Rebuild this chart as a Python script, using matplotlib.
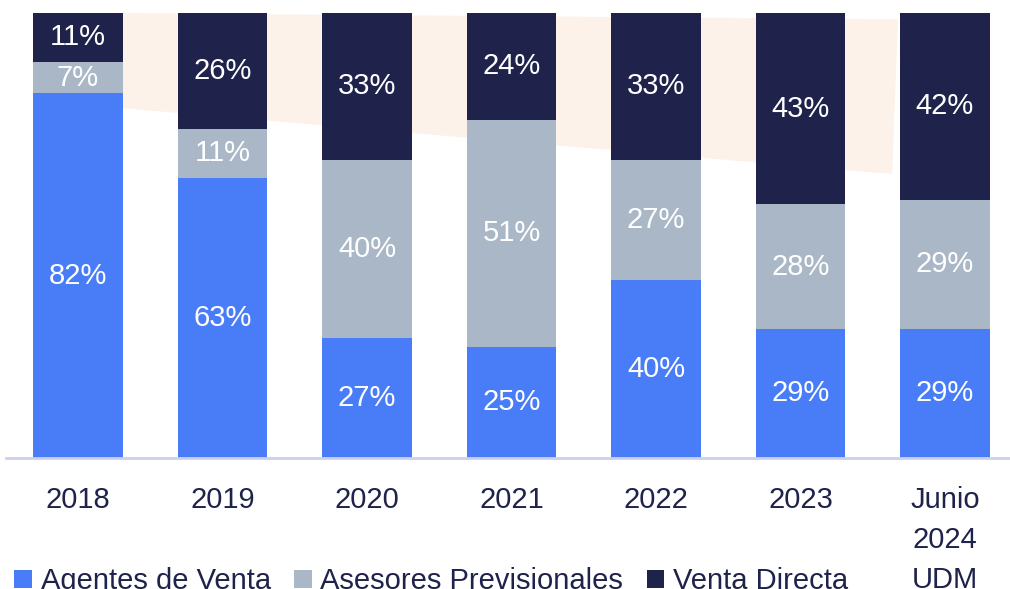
import matplotlib.pyplot as plt
from matplotlib.patches import Polygon
import numpy as np

plt.rcParams['font.family'] = ['Liberation Sans', 'DejaVu Sans']

categories = ['2018', '2019', '2020', '2021', '2022', '2023', 'Junio\n2024\nUDM']
agentes = [82, 63, 27, 25, 40, 29, 29]
asesores = [7, 11, 40, 51, 27, 28, 29]
directa = [11, 26, 33, 24, 33, 43, 42]
series_names = ['Agentes de Venta', 'Asesores Previsionales', 'Venta Directa']

c_blue = '#497DF8'
c_gray = '#AAB7C7'
c_navy = '#1F234B'
c_bg = '#FCF2EA'
c_axis = '#CDD0EA'

fig = plt.figure(figsize=(10.10, 5.89), dpi=100)
ax = fig.add_axes([6 / 1010, 131 / 589, 1004 / 1010, 445 / 589])

x = np.arange(len(categories))
w = 0.62

# light band behind the bars
band = Polygon([(0.31, 100), (5.675, 98.6), (5.635, 63.8), (0.31, 78.6)],
               closed=True, facecolor=c_bg, edgecolor='none', zorder=0)
ax.add_patch(band)

b1 = ax.bar(x, agentes, w, color=c_blue, label=series_names[0], zorder=2)
bottom2 = np.array(agentes)
b2 = ax.bar(x, asesores, w, bottom=bottom2, color=c_gray, label=series_names[1], zorder=2)
bottom3 = bottom2 + np.array(asesores)
b3 = ax.bar(x, directa, w, bottom=bottom3, color=c_navy, label=series_names[2], zorder=2)

for vals, bots in [(agentes, np.zeros(len(x))), (asesores, bottom2), (directa, bottom3)]:
    for xi, v, b in zip(x, vals, bots):
        ax.text(xi, b + v / 2, '{}%'.format(v), ha='center', va='center',
                color='white', fontsize=21, zorder=3)

ax.set_xlim(-0.498, 6.45)
ax.set_ylim(0, 100)
ax.set_yticks([])
ax.set_xticks(x)
ax.set_xticklabels(categories, fontsize=21, color=c_navy, linespacing=1.55, va='top')
ax.tick_params(axis='x', length=0, pad=20)
for s in ['top', 'right', 'left']:
    ax.spines[s].set_visible(False)
ax.spines['bottom'].set_color(c_axis)
ax.spines['bottom'].set_linewidth(2)

fig.legend(handles=[b1, b2, b3], labels=series_names, loc='lower left',
           bbox_to_anchor=(-0.006, -0.045), ncol=3, frameon=False, fontsize=21,
           handlelength=0.6, handleheight=0.6, handletextpad=0.3, columnspacing=0.8,
           labelcolor=c_navy, borderpad=0.2)

fig.savefig('out.png', dpi=100)
